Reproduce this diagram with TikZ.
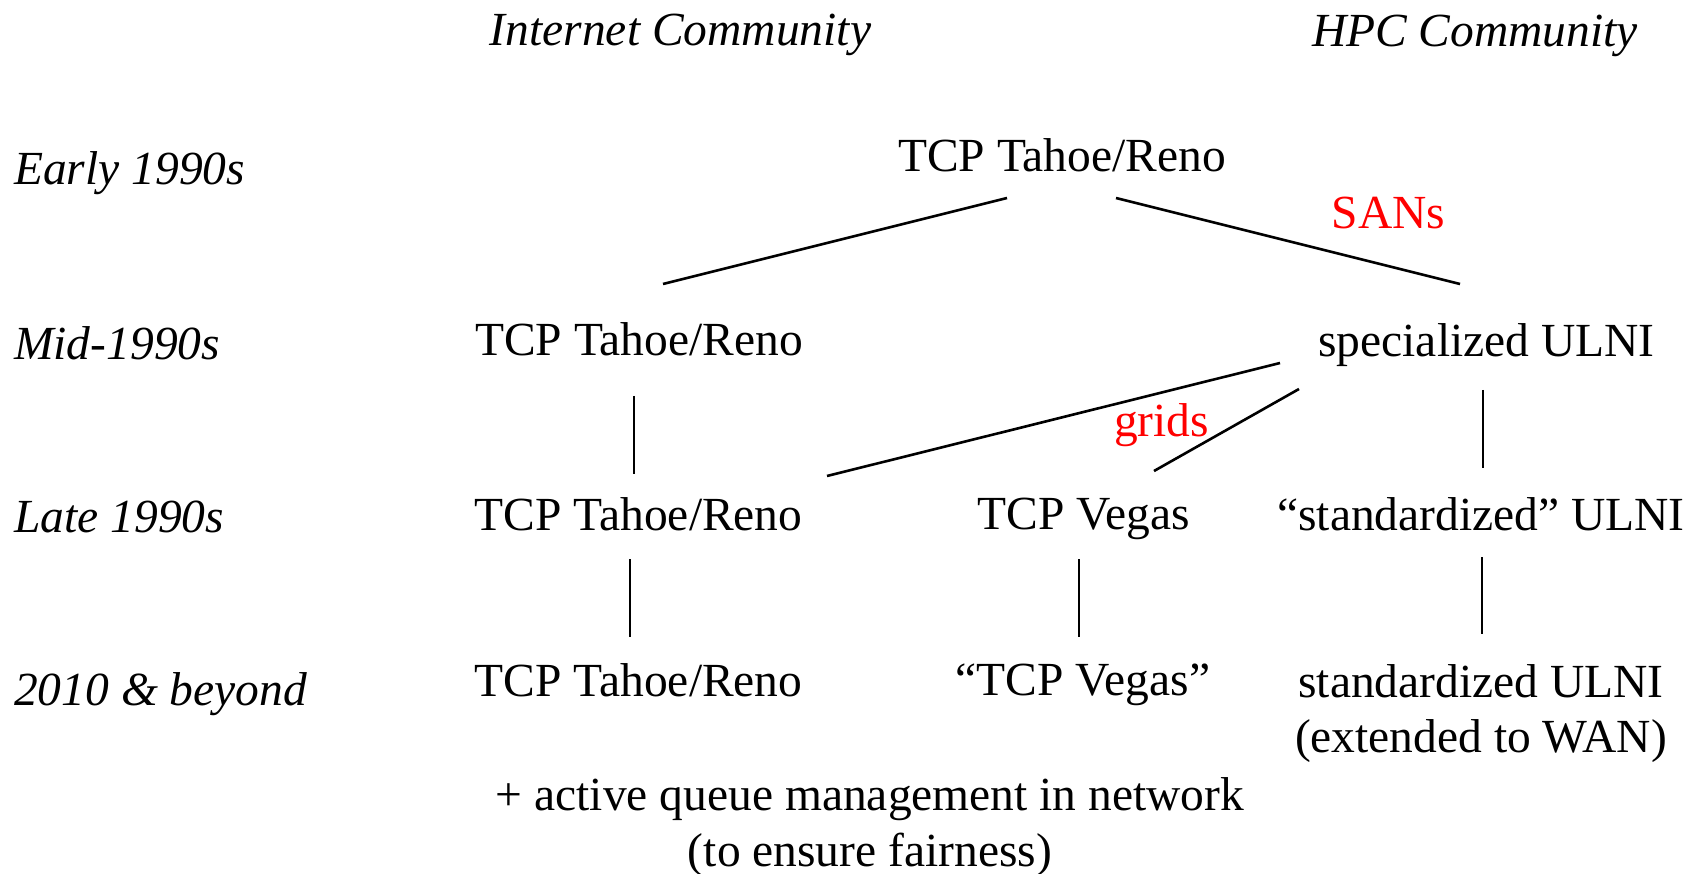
\documentclass[tikz,border=0pt]{standalone}
\usepackage{fontspec}
\setmainfont{Liberation Serif}
\usetikzlibrary{calc}
\begin{document}
\begin{tikzpicture}[x=1pt,y=-1pt,
  every node/.style={inner sep=0pt, font=\fontsize{47.5}{55}\selectfont},
  lbl/.style={anchor=base west, font=\fontsize{47.5}{55}\selectfont\itshape},
  hdr/.style={anchor=base, font=\fontsize{47.5}{55}\selectfont\itshape},
  item/.style={anchor=base},
  redlbl/.style={anchor=base, text={rgb,255:red,255;green,0;blue,0}},
  conn/.style={line width=2.6pt}]
\useasboundingbox (0,0) rectangle (1706,874);

% column headers
\node[hdr] (hInet) at (680.5,46) {Internet Community};
\node[hdr] (hHPC) at (1475,47) {HPC Community};

% row labels
\node[lbl] (rEarly) at (14,185) {Early 1990s};
\node[lbl] (rMid) at (14,360) {Mid-1990s};
\node[lbl] (rLate) at (14,532) {Late 1990s};
\node[lbl] (r2010) at (14,705) {2010 \& beyond};

% tree nodes
\node[item] (top) at (1062,172) {TCP Tahoe/Reno};
\node[item] (midT) at (639,356) {TCP Tahoe/Reno};
\node[item] (spec) at (1486.5,357) {specialized ULNI};
\node[item] (lateT) at (638.5,530) {TCP Tahoe/Reno};
\node[item] (vegas) at (1083.5,529) {TCP Vegas};
\node[item] (std) at (1481,530) {“standardized” ULNI};
\node[item] (newT) at (638.5,696) {TCP Tahoe/Reno};
\node[item] (newV) at (1083,695) {“TCP Vegas”};
\node[anchor=north, align=center] (newS) at (1481,664.5) {standardized ULNI\\(extended to WAN)};
\node[anchor=north, align=center, font=\fontsize{47.5}{56}\selectfont] (aqm) at (870,777.6) {+ active queue management in network\\(to ensure fairness)};

% red labels
\node[redlbl] (sans) at (1388.5,229) {SANs};
\node[redlbl] (grids) at (1161.5,437) {grids};

% connectors
\draw[conn] ($(top.base)+(-55,26)$) -- ($(midT.base)+(24,-72)$);
\draw[conn] ($(top.base)+(54,26)$) -- ($(spec.base)+(-26.5,-73)$);
\draw[conn] ($(midT.base)+(-5,40)$) -- ($(lateT.base)+(-4.5,-56)$);
\draw[conn] ($(spec.base)+(-206.5,6)$) -- ($(lateT.base)+(188.5,-54)$);
\draw[conn] ($(spec.base)+(-187.5,32)$) -- ($(vegas.base)+(70.5,-58)$);
\draw[conn] ($(spec.base)+(-3.5,33)$) -- ($(std.base)+(2,-62)$);
\draw[conn] ($(lateT.base)+(-8.5,29)$) -- ($(newT.base)+(-8.5,-59)$);
\draw[conn] ($(vegas.base)+(-4.5,30)$) -- ($(newV.base)+(-4,-58)$);
\draw[conn] ($(std.base)+(1,27)$) -- ($(newS.north)+(1,-30.5)$);
\end{tikzpicture}
\end{document}
